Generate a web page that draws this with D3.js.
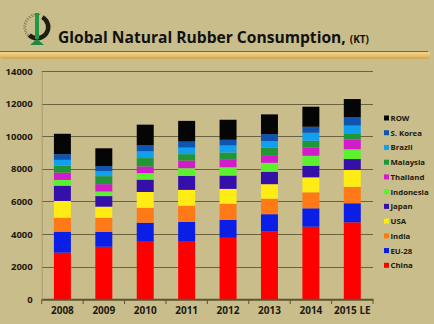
<!DOCTYPE html>
<html>
<head>
<meta charset="utf-8">
<script src="https://cdn.jsdelivr.net/npm/d3@7"></script>
<style>
  body { margin: 0; background: #c8bd8b; }
  svg { display: block; }
  .tick text { font-family: "Open Sans", sans-serif; font-weight: bold; }
</style>
</head>
<body>
<div id="chart"></div>
<script>
// chart data (KT)
var years = ["2008", "2009", "2010", "2011", "2012", "2013", "2014", "2015 LE"];
var countries = ["China", "EU-28", "India", "USA", "Japan", "Indonesia", "Thailand", "Malaysia", "Brazil", "S. Korea", "ROW"];

var china     = [2860, 3220, 3530, 3530, 3770, 4150, 4450, 4720];
var eu28      = [1290,  920, 1170, 1220, 1100, 1070, 1130, 1170];
var india     = [ 850,  860,  910,  990,  990,  950,  980, 1010];
var usa       = [1030,  680,  970,  970,  910,  890,  920, 1030];
var japan     = [ 940,  650,  760,  860,  820,  760,  710,  670];
var indonesia = [ 350,  280,  400,  470,  510,  550,  610,  600];
var thailand  = [ 450,  450,  410,  470,  490,  470,  520,  610];
var malaysia  = [ 430,  490,  510,  390,  410,  450,  400,  370];
var brazil    = [ 350,  310,  410,  400,  430,  410,  490,  470];
var korea     = [ 350,  310,  370,  370,  350,  430,  370,  510];
var row       = [1250, 1090, 1270, 1270, 1230, 1210, 1230, 1120];

var yTicks = [0, 2000, 4000, 6000, 8000, 10000, 12000, 14000];

var colors = {
  "China": "#ff0000",
  "EU-28": "#0a1ee6",
  "India": "#ff7a16",
  "USA": "#ffec14",
  "Japan": "#3410a8",
  "Indonesia": "#5cf030",
  "Thailand": "#d21ccc",
  "Malaysia": "#1f9638",
  "Brazil": "#10a0ee",
  "S. Korea": "#0e54b0",
  "ROW": "#050505"
};

var series = [china, eu28, india, usa, japan, indonesia, thailand, malaysia, brazil, korea, row];

// build table for the stack
var table = years.map(function(y, i) {
  var d = { year: y };
  countries.forEach(function(c, j) { d[c] = series[j][i]; });
  return d;
});

var width = 434;
var height = 324;

var svg = d3.select("#chart")
  .append("svg")
  .attr("width", width)
  .attr("height", height);

// background
svg.append("rect")
  .attr("width", width)
  .attr("height", height)
  .attr("fill", "#c8bd8b");

// header bar gradient
var defs = svg.append("defs");
var grad = defs.append("linearGradient")
  .attr("id", "goldbar")
  .attr("x1", 0).attr("y1", 0).attr("x2", 0).attr("y2", 1);
grad.append("stop").attr("offset", "0%").attr("stop-color", "#b88f45");
grad.append("stop").attr("offset", "20%").attr("stop-color", "#f2d58e");
grad.append("stop").attr("offset", "70%").attr("stop-color", "#e2b862");
grad.append("stop").attr("offset", "100%").attr("stop-color", "#c9a356");

svg.append("rect")
  .attr("x", 0)
  .attr("y", 51)
  .attr("width", 430)
  .attr("height", 8)
  .attr("rx", 3)
  .attr("fill", "url(#goldbar)");

svg.append("line")
  .attr("x1", 0).attr("x2", 428)
  .attr("y1", 51.5).attr("y2", 51.5)
  .attr("stroke", "#7d6535")
  .attr("stroke-width", 1);

// logo
var logo = svg.append("g").attr("transform", "translate(37,27)");
logo.append("path")
  .attr("d", d3.arc()({ innerRadius: 11.5, outerRadius: 13, startAngle: -3.0, endAngle: 0.2 }))
  .attr("fill", "none")
  .attr("stroke", "#847c5c")
  .attr("stroke-width", 1.2)
  .attr("stroke-dasharray", "1.5,1.2");
logo.append("path")
  .attr("d", d3.arc()({ innerRadius: 9, outerRadius: 13.5, startAngle: 0.5, endAngle: 3.9 }))
  .attr("fill", "#1e1e14");
logo.append("rect")
  .attr("x", -2).attr("y", -14)
  .attr("width", 4).attr("height", 26)
  .attr("fill", "#1c9a48");
logo.append("path")
  .attr("d", "M-7,18 L0,12 L7,18 Z")
  .attr("fill", "#1c8a44");

// title
var title = svg.append("text")
  .attr("x", 58)
  .attr("y", 43)
  .attr("font-family", "'Open Sans', sans-serif")
  .attr("font-weight", "bold")
  .attr("fill", "#111")
  .attr("font-size", 15.6);
title.append("tspan").text("Global Natural Rubber Consumption,");
title.append("tspan").attr("font-size", 10).attr("dx", 4).text("(KT)");

// scales
var x = d3.scaleBand()
  .domain(years)
  .range([41.7, 373])
  .paddingInner(0.59)
  .paddingOuter(0.295);

var y = d3.scaleLinear()
  .domain([0, 14000])
  .range([299.3, 71]);

// gridlines
svg.append("g")
  .selectAll("line")
  .data(yTicks.slice(1))
  .enter()
  .append("line")
  .attr("x1", 41.7)
  .attr("x2", 373)
  .attr("y1", function(d) { return Math.round(y(d)) + 0.5; })
  .attr("y2", function(d) { return Math.round(y(d)) + 0.5; })
  .attr("stroke", "#6c6240")
  .attr("stroke-width", 1);

// y axis
var yAxis = svg.append("g")
  .attr("transform", "translate(41.7,0)")
  .call(d3.axisLeft(y).tickValues(yTicks).tickSize(0).tickPadding(9).tickFormat(d3.format("d")));
yAxis.select(".domain").attr("stroke", "#a79c70");
yAxis.selectAll("text")
  .attr("font-size", 9.5)
  .attr("fill", "#1c1a10");

// stacked bars
var stack = d3.stack().keys(countries);
var layers = stack(table);

svg.append("g")
  .selectAll("g")
  .data(layers)
  .enter()
  .append("g")
  .attr("fill", function(d) { return colors[d.key]; })
  .selectAll("rect")
  .data(function(d) { return d; })
  .enter()
  .append("rect")
  .attr("x", function(d) { return x(d.data.year); })
  .attr("y", function(d) { return y(d[1]); })
  .attr("width", x.bandwidth())
  .attr("height", function(d) { return y(d[0]) - y(d[1]); });

// x axis
var xAxis = svg.append("g")
  .attr("transform", "translate(0,299.3)")
  .call(d3.axisBottom(x).tickSize(0).tickPadding(8));
xAxis.select(".domain")
  .attr("stroke", "#5e5432")
  .attr("stroke-width", 2);
xAxis.selectAll("text")
  .attr("font-size", 10)
  .attr("fill", "#1c1a10");

// category separator ticks
svg.append("g")
  .selectAll("line")
  .data(d3.range(years.length + 1))
  .enter()
  .append("line")
  .attr("x1", function(i) { return 41.7 + i * (373 - 41.7) / years.length; })
  .attr("x2", function(i) { return 41.7 + i * (373 - 41.7) / years.length; })
  .attr("y1", 299.3)
  .attr("y2", 304)
  .attr("stroke", "#5e5432")
  .attr("stroke-width", 1);

// legend
var legendKeys = countries.slice().reverse();
var legend = svg.append("g")
  .selectAll("g")
  .data(legendKeys)
  .enter()
  .append("g")
  .attr("transform", function(d, i) { return "translate(384," + (118 + i * 14.73) + ")"; });

legend.append("rect")
  .attr("x", 0)
  .attr("y", -2.5)
  .attr("width", 5)
  .attr("height", 5)
  .attr("fill", function(d) { return colors[d]; });

legend.append("text")
  .attr("x", 6.5)
  .attr("y", 3)
  .attr("font-family", "'Open Sans', sans-serif")
  .attr("font-weight", "bold")
  .attr("font-size", 7.8)
  .attr("fill", "#1c1a10")
  .text(function(d) { return d; });
</script>
</body>
</html>
